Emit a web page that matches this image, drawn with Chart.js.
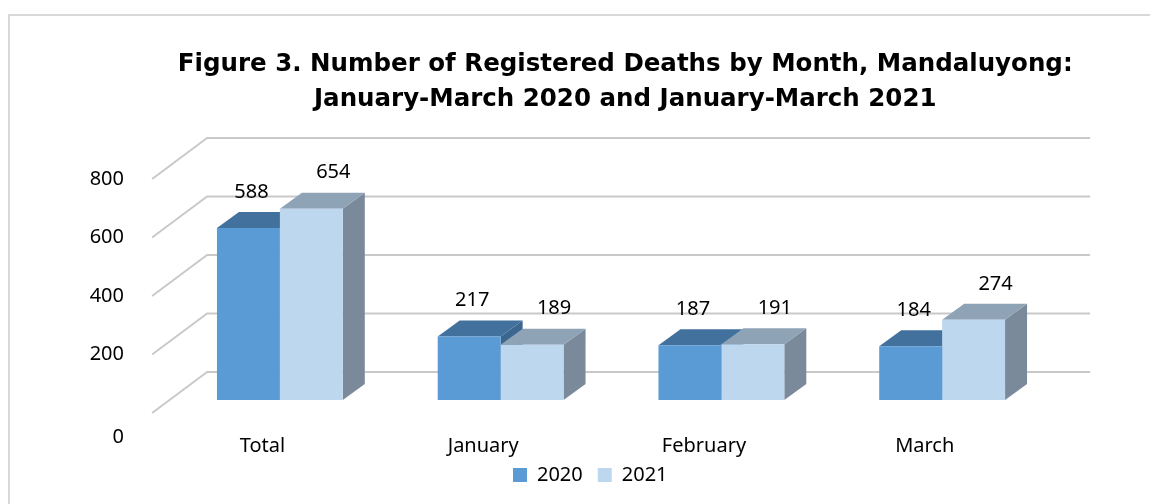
<!DOCTYPE html>
<html>
<head>
<meta charset="utf-8">
<script src="https://cdn.jsdelivr.net/npm/chart.js@4"></script>
<style>
  html, body { margin: 0; padding: 0; background: #fff; }
  #wrap { width: 1150px; height: 504px; position: relative; }
</style>
</head>
<body>
<div id="wrap"><canvas id="deathsChart"></canvas></div>
<script>
/* =========================
   DATA
========================= */

const categories = ['Total', 'January', 'February', 'March'];
const deaths2020 = [588, 217, 187, 184];
const deaths2021 = [654, 189, 191, 274];
const yTicks = [0, 200, 400, 600, 800];

const titleLines = [
    'Figure 3. Number of Registered Deaths by Month, Mandaluyong:',
    'January-March 2020 and January-March 2021'
];


/* =========================
   3D LOOK (faked)
========================= */

// bar depth, back wall and floor offsets (pixels)
const DEPTH_X = 22, DEPTH_Y = -16;
const WALL_X = 37.6, WALL_Y = -28;
const FLOOR_X = -17.4, FLOOR_Y = 13;

const faceColors = [
    { top: '#41719c', side: '#3a6690' },
    { top: '#8fa3b6', side: '#7a8a9a' }
];

const frame3dPlugin = {
    id: 'frame3d',

    beforeDraw(chart) {
        const ctx = chart.ctx;
        ctx.save();
        ctx.strokeStyle = '#d9d9d9';
        ctx.lineWidth = 2;
        ctx.beginPath();
        ctx.moveTo(9, 504);
        ctx.lineTo(9, 15);
        ctx.lineTo(1150, 15);
        ctx.stroke();
        ctx.restore();
    },

    beforeDatasetsDraw(chart) {
        const { ctx, chartArea: { left, right }, scales: { y } } = chart;

        ctx.save();

        // back wall grid + the diagonal on the left side wall
        ctx.strokeStyle = '#c9c9c9';
        ctx.lineWidth = 2;
        yTicks.forEach(v => {
            const py = y.getPixelForValue(v);
            ctx.beginPath();
            ctx.moveTo(left + FLOOR_X, py + FLOOR_Y);
            ctx.lineTo(left + WALL_X, py + WALL_Y);
            ctx.lineTo(right + WALL_X, py + WALL_Y);
            ctx.stroke();
        });

        // side and top faces, left to right
        for (let i = 0; i < categories.length; i++) {
            chart.data.datasets.forEach((ds, d) => {
                const bar = chart.getDatasetMeta(d).data[i];
                const x0 = bar.x - bar.width / 2;
                const x1 = bar.x + bar.width / 2;
                const top = bar.y;
                const base = bar.base;

                ctx.fillStyle = faceColors[d].side;
                ctx.beginPath();
                ctx.moveTo(x1, top);
                ctx.lineTo(x1 + DEPTH_X, top + DEPTH_Y);
                ctx.lineTo(x1 + DEPTH_X, base + DEPTH_Y);
                ctx.lineTo(x1, base);
                ctx.closePath();
                ctx.fill();

                ctx.fillStyle = faceColors[d].top;
                ctx.beginPath();
                ctx.moveTo(x0, top);
                ctx.lineTo(x1, top);
                ctx.lineTo(x1 + DEPTH_X, top + DEPTH_Y);
                ctx.lineTo(x0 + DEPTH_X, top + DEPTH_Y);
                ctx.closePath();
                ctx.fill();
            });
        }

        ctx.restore();
    },

    afterDatasetsDraw(chart) {
        const ctx = chart.ctx;
        ctx.save();
        ctx.fillStyle = '#000';
        ctx.font = '20px "Noto Sans"';
        ctx.textAlign = 'center';
        ctx.textBaseline = 'middle';

        chart.data.datasets.forEach((ds, d) => {
            chart.getDatasetMeta(d).data.forEach((bar, i) => {
                const dx = d === 0 ? 3 : 22;
                ctx.fillText(String(ds.data[i]), bar.x + dx, bar.y - 36);
            });
        });
        ctx.restore();
    },

    // nudge title and legend, like the original
    afterLayout(chart) {
        if (chart.titleBlock) {
            chart.titleBlock.left += 89;
            chart.titleBlock.right += 89;
        }
        if (chart.legend) {
            chart.legend.left += 54;
            chart.legend.right += 54;
            chart.legend.top -= 8;
            chart.legend.bottom -= 8;
        }
    }
};


/* =========================
   CHART
========================= */

const chart = new Chart(document.getElementById('deathsChart'), {
    type: 'bar',

    data: {
        labels: categories,
        datasets: [
            {
                label: '2020',
                data: deaths2020,
                backgroundColor: '#5b9bd5',
                borderWidth: 0
            },
            {
                label: '2021',
                data: deaths2021,
                backgroundColor: '#bdd7ee',
                borderWidth: 0
            }
        ]
    },

    options: {
        responsive: true,
        maintainAspectRatio: false,
        animation: false,

        categoryPercentage: 0.57,
        barPercentage: 1.0,

        layout: {
            padding: { left: 20, right: 97.5, top: 0, bottom: 1 }
        },

        plugins: {
            title: {
                display: true,
                text: titleLines,
                color: '#000',
                font: { family: '"DejaVu Sans"', size: 24.5, weight: 'bold', lineHeight: 35 / 24.5 },
                padding: { top: 47.5, bottom: 48.5 }
            },
            legend: {
                position: 'bottom',
                labels: {
                    color: '#000',
                    font: { family: '"Noto Sans"', size: 20 },
                    boxWidth: 14,
                    boxHeight: 14,
                    padding: 15
                }
            },
            tooltip: { enabled: false }
        },

        scales: {
            x: {
                grid: { display: false, drawTicks: false },
                border: { display: false },
                ticks: {
                    color: '#000',
                    font: { family: '"Noto Sans"', size: 20 },
                    padding: 34,
                    labelOffset: FLOOR_X
                },
                afterFit(scale) {
                    scale.height = 58;
                }
            },
            y: {
                min: 0,
                max: 800,
                grid: { display: false, drawTicks: false },
                border: { display: false },
                ticks: {
                    stepSize: 200,
                    autoSkip: false,
                    color: '#000',
                    font: { family: '"Noto Sans"', size: 20 },
                    padding: 45.5,
                    labelOffset: FLOOR_Y,
                    callback: v => (v === 0 ? ['', '', '0'] : String(v))
                },
                afterFit(scale) {
                    scale.width = 149.5;
                }
            }
        }
    },

    plugins: [frame3dPlugin]
});
</script>
</body>
</html>
